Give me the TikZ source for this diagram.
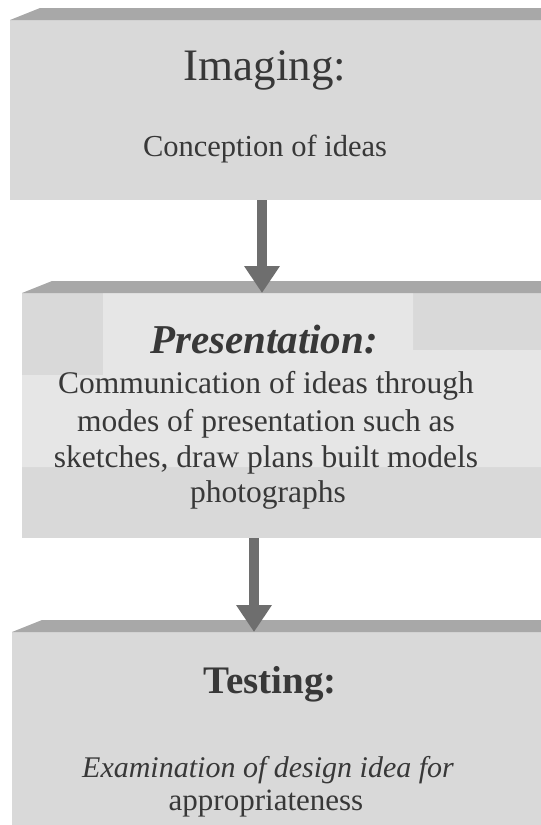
\documentclass[tikz,border=0pt]{standalone}
\usepackage{fontspec}
\setmainfont{Liberation Serif}
\usetikzlibrary{arrows.meta,calc}

\definecolor{boxfill}{HTML}{D9D9D9}
\definecolor{boxlight}{HTML}{E6E6E6}
\definecolor{bevel}{HTML}{A8A8A8}
\definecolor{arrowgrey}{HTML}{6E6E6E}
\definecolor{ink}{HTML}{383838}

\begin{document}
\begin{tikzpicture}[x=1pt,y=-1pt,
  panel/.style={fill=boxfill, draw=none, inner sep=0pt, outer sep=0pt, anchor=north west},
  heading/.style={text=ink, inner sep=0pt, anchor=base},
  bodytext/.style={text=ink, inner sep=0pt, anchor=base},
  flow/.style={arrowgrey, line width=10pt, -{Triangle[width=34pt,length=27pt]}}
]
\useasboundingbox (0,0) rectangle (541,825);
\fill[white] (0,0) rectangle (541,825);

% ---- panels -------------------------------------------------------------
\node[panel, minimum width=531pt, minimum height=180pt] (imaging) at (10,20) {};
\node[panel, minimum width=519pt, minimum height=245pt] (presentation) at (22,293) {};
\node[panel, minimum width=529pt, minimum height=193pt] (testing) at (12,632) {};

% lighter area behind the text of the middle panel
\fill[boxlight] (103,293) -- (413,293) -- (413,350) -- (541,350) -- (541,467)
  -- (22,467) -- (22,375) -- (103,375) -- cycle;

% bevelled top edges
\foreach \p in {imaging,presentation,testing}
  \fill[bevel] (\p.north west) -- ++(30,-12) -- ([yshift=12pt]\p.north east) -- (\p.north east) -- cycle;

% ---- connectors ---------------------------------------------------------
\coordinate (a1) at (262,0);
\coordinate (a2) at (254,0);
\draw[flow] (a1 |- imaging.south) -- (a1 |- presentation.north);
\draw[flow] (a2 |- presentation.south) -- (a2 |- testing.north);

% ---- texts --------------------------------------------------------------
\node[heading, font=\fontsize{45}{54}\selectfont] (t1) at (265,80) {Imaging:};
\node[bodytext, font=\fontsize{30.5}{36}\selectfont] (d1) at (265,156) {Conception of ideas};

\node[heading, font=\fontsize{41}{48}\selectfont\bfseries\itshape] (t2) at (264,353) {Presentation:};
\node[bodytext, font=\fontsize{31.5}{38}\selectfont] (d2a) at (266,393) {Communication of ideas through};
\node[bodytext, font=\fontsize{31.5}{38}\selectfont] (d2b) at (266,431) {modes of presentation such as};
\node[bodytext, font=\fontsize{31.5}{38}\selectfont] (d2c) at (266,467) {sketches, draw plans built models};
\node[bodytext, font=\fontsize{31.5}{38}\selectfont] (d2d) at (268,502) {photographs};

\node[heading, font=\fontsize{39}{46}\selectfont\bfseries] (t3) at (270,693) {Testing:};
\node[bodytext, font=\fontsize{30}{36}\selectfont\itshape] (d3a) at (268,777) {Examination of design idea for};
\node[bodytext, font=\fontsize{31}{36}\selectfont] (d3b) at (266,810) {appropriateness};
\end{tikzpicture}
\end{document}
